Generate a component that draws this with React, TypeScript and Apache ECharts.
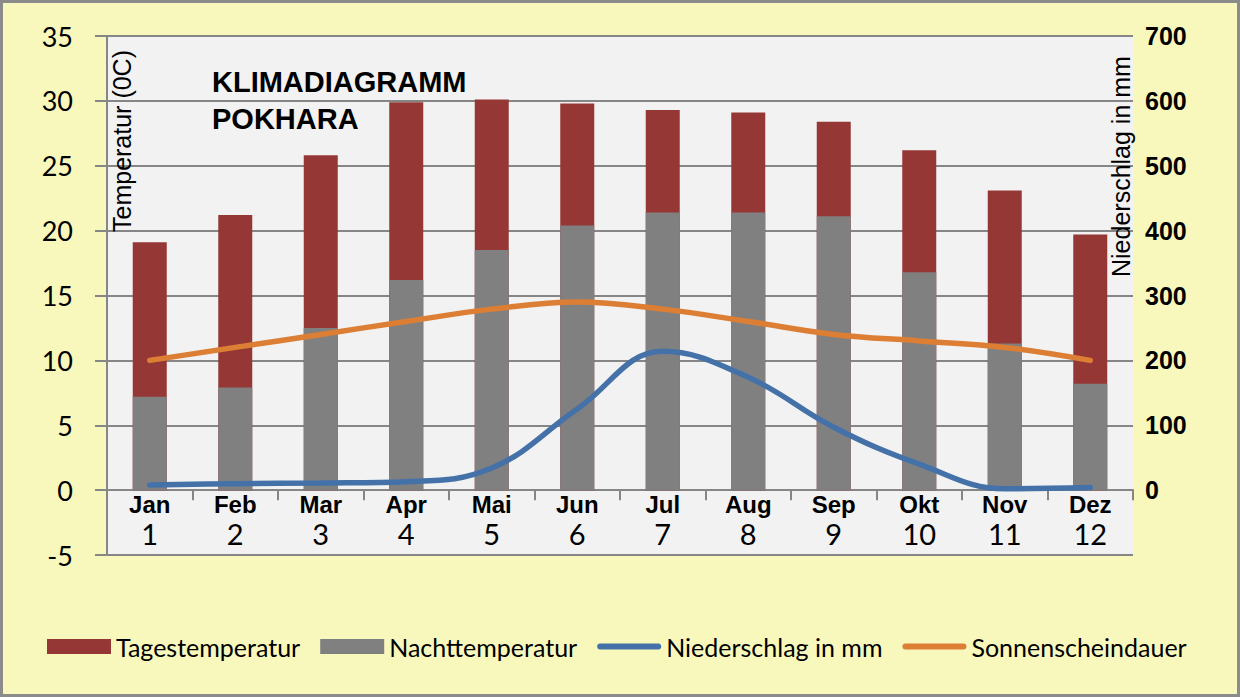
import React, { useEffect, useRef } from "react";
import * as echarts from "echarts";

const months = ["Jan", "Feb", "Mar", "Apr", "Mai", "Jun", "Jul", "Aug", "Sep", "Okt", "Nov", "Dez"];
const monthNumbers = ["1", "2", "3", "4", "5", "6", "7", "8", "9", "10", "11", "12"];
const tagestemperatur = [19.1, 21.2, 25.8, 29.9, 30.1, 29.8, 29.3, 29.1, 28.4, 26.2, 23.1, 19.7];
const nachttemperatur = [7.2, 7.9, 12.5, 16.2, 18.5, 20.4, 21.4, 21.4, 21.1, 16.8, 11.3, 8.2];
const niederschlag = [8, 10, 11, 13, 34, 125, 214, 174, 97, 40, 2, 4];
const sonnenscheindauer = [200, 220, 240, 260, 279, 290, 279, 260, 240, 230, 220, 200];

const LABEL_FONT = "Lato, 'Noto Sans', sans-serif";
const BOLD_FONT = "'Liberation Sans', Arial, sans-serif";

const GRID_TOP = 36;
const GRID_BOTTOM = 142;
const CHART_H = 697;
const Y_MIN = -5;
const Y_MAX = 35;

export default function App() {
  const ref = useRef<HTMLDivElement>(null);
  useEffect(() => {
    document.body.style.margin = "0";
    const chart = echarts.init(ref.current!, null, { renderer: "svg" });
    const linePath = "path://M3,0 L61,0 A3,3 0 0 1 61,6 L3,6 A3,3 0 0 1 3,0 Z";
    // distance from grid bottom (value -5) up to value 0
    const plotH = CHART_H - GRID_TOP - GRID_BOTTOM;
    const zeroOffset = -((0 - Y_MIN) / (Y_MAX - Y_MIN)) * plotH;
    chart.setOption({
      animation: false,
      backgroundColor: "#F8F8BC",
      grid: {
        left: 107,
        right: 107,
        top: GRID_TOP,
        bottom: GRID_BOTTOM,
        show: true,
        backgroundColor: "#F2F2F2",
        borderWidth: 0,
      },
      legend: {
        left: 42,
        top: 629,
        itemWidth: 64,
        itemHeight: 15,
        itemGap: 20,
        textStyle: { fontFamily: LABEL_FONT, fontSize: 25, color: "#000" },
        data: [
          { name: "Tagestemperatur", icon: "rect" },
          { name: "Nachttemperatur", icon: "rect" },
          { name: "Niederschlag in mm", icon: linePath },
          { name: "Sonnenscheindauer", icon: linePath },
        ],
      },
      xAxis: {
        type: "category",
        data: months,
        offset: zeroOffset,
        axisLine: { onZero: false, lineStyle: { color: "#868686", width: 2 } },
        axisTick: { show: true, length: 10, lineStyle: { color: "#868686", width: 2 } },
        axisLabel: {
          margin: 0,
          formatter: (v: string, i: number) => `{m|${v}}\n{n|${monthNumbers[i]}}`,
          rich: {
            m: { fontFamily: BOLD_FONT, fontWeight: "bold", fontSize: 24, lineHeight: 28, color: "#000" },
            n: { fontFamily: LABEL_FONT, fontSize: 29, lineHeight: 30, color: "#000" },
          },
        },
      },
      yAxis: [
        {
          type: "value",
          min: Y_MIN,
          max: Y_MAX,
          interval: 5,
          axisLine: { show: true, lineStyle: { color: "#868686", width: 2 } },
          axisTick: { show: true, length: 12, lineStyle: { color: "#868686", width: 2 } },
          splitLine: { show: true, lineStyle: { color: "#868686", width: 2 } },
          axisLabel: { margin: 34, fontFamily: LABEL_FONT, fontSize: 27, color: "#000" },
        },
        {
          type: "value",
          min: -100,
          max: 700,
          interval: 100,
          position: "right",
          axisLine: { show: false },
          axisTick: { show: false },
          splitLine: { show: false },
          axisLabel: {
            margin: 12,
            fontFamily: BOLD_FONT,
            fontWeight: "bold",
            fontSize: 25,
            color: "#000",
            formatter: (v: number) => (v < 0 ? "" : String(v)),
          },
        },
      ],
      series: [
        {
          name: "Tagestemperatur",
          type: "bar",
          data: tagestemperatur,
          barWidth: 34,
          barGap: "-100%",
          itemStyle: { color: "#953735" },
        },
        {
          name: "Nachttemperatur",
          type: "bar",
          data: nachttemperatur,
          barWidth: 34,
          itemStyle: { color: "#808080" },
        },
        {
          name: "Niederschlag in mm",
          type: "line",
          yAxisIndex: 1,
          data: niederschlag,
          smooth: 0.4,
          symbol: "none",
          lineStyle: { color: "#4472A8", width: 5.5, cap: "round" },
          itemStyle: { color: "#4472A8" },
        },
        {
          name: "Sonnenscheindauer",
          type: "line",
          yAxisIndex: 1,
          data: sonnenscheindauer,
          smooth: 0.4,
          symbol: "none",
          lineStyle: { color: "#DC7E34", width: 5.5, cap: "round" },
          itemStyle: { color: "#DC7E34" },
        },
      ],
      graphic: [
        {
          type: "rect",
          shape: { x: 1.5, y: 1.5, width: 1237, height: 694 },
          style: { fill: "none", stroke: "#8B8B8B", lineWidth: 3 },
          z: 100,
        },
        {
          type: "text",
          x: 212,
          y: 63,
          style: {
            text: "KLIMADIAGRAMM\nPOKHARA",
            font: `bold 29px ${BOLD_FONT}`,
            lineHeight: 37,
            fill: "#000",
          },
          z: 100,
        },
        {
          type: "text",
          x: 122,
          y: 232,
          rotation: Math.PI / 2,
          style: {
            text: "Temperatur (0C)",
            font: `25px ${BOLD_FONT}`,
            fill: "#000",
            textAlign: "left",
            textVerticalAlign: "middle",
          },
          z: 100,
        },
        {
          type: "text",
          x: 1121,
          y: 277,
          rotation: Math.PI / 2,
          style: {
            text: "Niederschlag in mm",
            font: `25px ${BOLD_FONT}`,
            fill: "#000",
            textAlign: "left",
            textVerticalAlign: "middle",
          },
          z: 100,
        },
      ],
    });
    return () => chart.dispose();
  }, []);
  return <div ref={ref} style={{ width: 1240, height: 697 }} />;
}
